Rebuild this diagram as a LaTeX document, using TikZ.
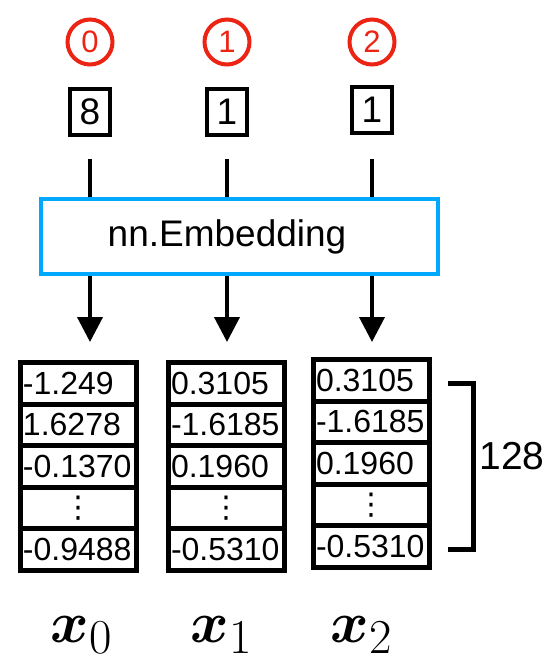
\documentclass[tikz,border=0pt]{standalone}
\usepackage{amsmath}
\usepackage{bm}
\usepackage{graphicx}
\usepackage{fontspec}
\setmainfont{Liberation Sans}
\newfontfamily\dejavu{DejaVu Sans}
\usetikzlibrary{arrows.meta}
\definecolor{embblue}{RGB}{0,168,255}
\definecolor{idxred}{RGB}{236,36,20}
\newcommand{\biglabel}[1]{\scalebox{2.35}{\Huge$\bm{x}_{#1}$}}
\tikzset{
  idx/.style={circle, draw=idxred, line width=4pt, minimum size=45pt, inner sep=0pt,
    text=idxred, font=\fontsize{31}{31}\selectfont},
  tok/.style={rectangle, draw, line width=4.5pt, minimum width=40pt, minimum height=46pt,
    inner sep=0pt, font=\fontsize{37}{37}\selectfont},
  embbox/.style={rectangle, draw=embblue, line width=4pt, minimum width=397pt,
    minimum height=75pt, inner sep=0pt, font=\fontsize{37}{37}\selectfont},
  cell/.style={rectangle, draw, line width=5pt, minimum width=116pt, minimum height=41.6pt,
    inner xsep=3pt, inner ysep=0pt, text width=110pt, align=left,
    font=\fontsize{32}{32}\selectfont},
  dotcell/.style={cell, align=center, font=\dejavu\fontsize{30}{30}\selectfont},
  feed/.style={line width=4pt},
  arr/.style={line width=4pt, -{Triangle[width=25pt,length=25pt]}},
  brace/.style={line width=5pt},
  vlabel/.style={inner sep=0pt, anchor=base},
}
\begin{document}
\begin{tikzpicture}[x=1pt,y=-1pt]
\useasboundingbox (0,0) rectangle (554,662);
% position indices
\node[idx] (i0) at (90,42) {0};
\node[idx] (i1) at (227,42) {1};
\node[idx] (i2) at (372,42) {2};
% tokens
\node[tok] (n0) at (90,112) {8};
\node[tok] (n1) at (227,112) {1};
\node[tok] (n2) at (372,110) {1};
% embedding
\node[embbox] (emb) at (239.5,236.5) {nn.Embedding\hspace*{25pt}};
% vectors
\node[cell] (a0) at (78,383.3) {-1.249};
\node[cell] (a1) at (78,424.9) {1.6278};
\node[cell] (a2) at (78,466.5) {-0.1370};
\node[dotcell] (a3) at (78,508.1) {⋮};
\node[cell] (a4) at (78,549.7) {-0.9488};
\node[cell] (b0) at (226,383.3) {0.3105};
\node[cell] (b1) at (226,424.9) {-1.6185};
\node[cell] (b2) at (226,466.5) {0.1960};
\node[dotcell] (b3) at (226,508.1) {⋮};
\node[cell] (b4) at (226,549.7) {-0.5310};
\node[cell] (c0) at (371,380.3) {0.3105};
\node[cell] (c1) at (371,421.9) {-1.6185};
\node[cell] (c2) at (371,463.5) {0.1960};
\node[dotcell] (c3) at (371,505.1) {⋮};
\node[cell] (c4) at (371,546.7) {-0.5310};
% connectors
\draw[feed] ([yshift=-22pt]n0.south) -- (n0.south |- emb.north);
\draw[feed] ([yshift=-22pt]n1.south) -- (n1.south |- emb.north);
\draw[feed] ([yshift=-24pt]n2.south) -- (n2.south |- emb.north);
\draw[arr, shorten >=18pt] (n0 |- emb.south) -- (n0 |- a0.north);
\draw[arr, shorten >=18pt] (n1 |- emb.south) -- (n1 |- b0.north);
\draw[arr, shorten >=15pt] (n2 |- emb.south) -- (n2 |- c0.north);
% bracket
\coordinate (bt) at (448,383);
\coordinate (bb) at (448,549);
\draw[brace] (bt) -- ++(25,0) -- ++(0,166) -- (bb);
\node[inner sep=0pt, font=\fontsize{39}{39}\selectfont] (n128) at (512,456) {128};
% labels
\node[vlabel] (x0) at (82,642) {\biglabel{0}};
\node[vlabel] (x1) at (222,642) {\biglabel{1}};
\node[vlabel] (x2) at (362,642) {\biglabel{2}};
\end{tikzpicture}
\end{document}
